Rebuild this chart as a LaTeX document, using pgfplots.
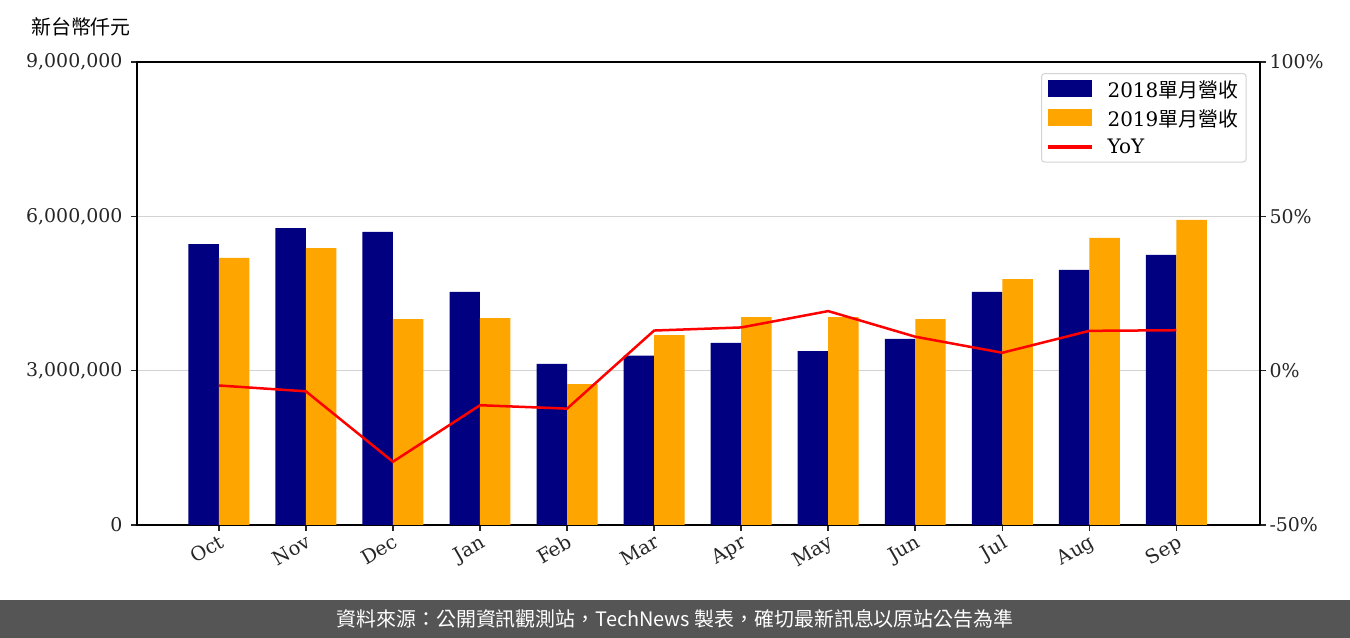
\documentclass[border=0pt]{standalone}
\usepackage{fontspec}
\setmainfont{DejaVu Serif}
\newfontfamily\cjk{Noto Sans CJK TC}
\usepackage{pgfplots}
\pgfplotsset{compat=1.18}
\definecolor{navyb}{HTML}{000080}
\definecolor{orangeb}{HTML}{FFA500}
\definecolor{banner}{HTML}{555555}
\definecolor{gridc}{HTML}{D3D3D3}
\begin{document}
\begin{tikzpicture}
\useasboundingbox (0bp,0bp) rectangle (1350bp,638bp);
\fill[white] (0bp,0bp) rectangle (1350bp,638bp);
% banner
\fill[banner] (0bp,0bp) rectangle (1350bp,38bp);
\node[text=white, font={\cjk\fontsize{20}{22}\selectfont}] at (675bp,19bp) {資料來源：公開資訊觀測站，TechNews 製表，確切最新訊息以原站公告為準};
% unit label
\node[font={\cjk\fontsize{20}{22}\selectfont}] at (81bp,611bp) {新台幣仟元};

\begin{axis}[
  at={(137bp,113bp)}, anchor=south west,
  scale only axis, width=1123bp, height=463bp,
  xmin=-0.94, xmax=11.96,
  ymin=0, ymax=9000000,
  xtick={0,...,11},
  xticklabels={Oct,Nov,Dec,Jan,Feb,Mar,Apr,May,Jun,Jul,Aug,Sep},
  xticklabel style={rotate=30, anchor=north east, font=\fontsize{19.5}{22}\selectfont, text=black!85, inner sep=2bp},
  ytick={0,3000000,6000000,9000000},
  yticklabels={0,{3,000,000},{6,000,000},{9,000,000}},
  yticklabel style={font=\fontsize{19}{22}\selectfont, text=black!85, xshift=-5bp},
  scaled y ticks=false,
  xtick pos=bottom, ytick pos=left,
  tick align=outside,
  major tick length=6bp,
  every tick/.style={black!85, line width=1.6bp},
  axis line style={line width=1.6bp},
  ymajorgrids, grid style={gridc, line width=1bp},
]
\addplot[ybar, bar width=0.35, bar shift=-0.175, fill=navyb, draw=none] coordinates {
(0,5460000) (1,5770000) (2,5700000) (3,4530000) (4,3130000) (5,3290000)
(6,3540000) (7,3380000) (8,3620000) (9,4530000) (10,4960000) (11,5250000)};
\addplot[ybar, bar width=0.35, bar shift=0.175, fill=orangeb, draw=none] coordinates {
(0,5190000) (1,5380000) (2,4000000) (3,4020000) (4,2740000) (5,3690000)
(6,4040000) (7,4040000) (8,4000000) (9,4780000) (10,5580000) (11,5930000)};
\end{axis}

\begin{axis}[
  at={(137bp,113bp)}, anchor=south west,
  scale only axis, width=1123bp, height=463bp,
  xmin=-0.94, xmax=11.96,
  ymin=-50, ymax=100,
  axis x line=none,
  axis y line*=right,
  ytick={-50,0,50,100},
  yticklabels={-50\%,0\%,50\%,100\%},
  yticklabel style={font=\fontsize{19}{22}\selectfont, text=black!85},
  tick align=outside,
  major tick length=6bp,
  every tick/.style={black!85, line width=1.6bp},
  axis line style={line width=1.6bp},
  legend style={at={(0.988,0.976)}, anchor=north east, draw=gridc, rounded corners=3bp,
    font=\fontsize{20}{23}\selectfont, row sep=7bp, column sep=14bp, inner xsep=6bp, inner ysep=5bp, line width=1bp},
  legend cell align=left,
]
\addlegendimage{legend image code/.code={\fill[navyb, sharp corners] (0bp,-7bp) rectangle (43bp,9bp);}}
\addlegendentry{2018{\cjk 單月營收}}
\addlegendimage{legend image code/.code={\fill[orangeb, sharp corners] (0bp,-7bp) rectangle (43bp,9bp);}}
\addlegendentry{2019{\cjk 單月營收}}
\addlegendimage{legend image code/.code={\fill[red, sharp corners] (0bp,-1.5bp) rectangle (43bp,1.5bp);}}
\addlegendentry{YoY}
\addplot[red, line width=2.5bp, mark=none, forget plot] coordinates {
(0,-4.8) (1,-6.7) (2,-29.5) (3,-11.2) (4,-12.3) (5,13.0)
(6,14.0) (7,19.3) (8,11.0) (9,5.8) (10,12.9) (11,13.1)};
\end{axis}
\end{tikzpicture}
\end{document}
